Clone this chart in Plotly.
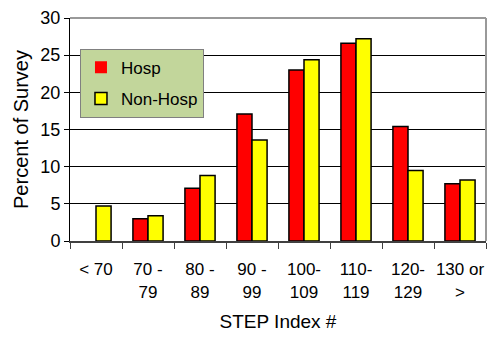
import plotly.graph_objects as go

categories = ["< 70", "70 -<br>79", "80 -<br>89", "90 -<br>99", "100-<br>109",
              "110-<br>119", "120-<br>129", "130 or<br>>"]
hosp = [0, 3.0, 7.1, 17.1, 23.0, 26.6, 15.4, 7.7]
non_hosp = [4.7, 3.4, 8.8, 13.6, 24.4, 27.2, 9.5, 8.2]

font = "Liberation Sans, Arial, sans-serif"

# no outline on empty bars
hosp_line = [0 if v == 0 else 1.5 for v in hosp]

fig = go.Figure()
fig.add_trace(go.Bar(x=categories, y=hosp, name="Hosp", legendgroup="h",
                     marker=dict(color="#ff0000", line=dict(color="#000000", width=hosp_line))))
fig.add_trace(go.Bar(x=categories, y=non_hosp, name="Non-Hosp", legendgroup="n",
                     marker=dict(color="#ffff00", line=dict(color="#000000", width=1.5))))

fig.update_layout(
    width=487, height=339,
    margin=dict(l=70, r=1, t=18, b=98, autoexpand=False),
    paper_bgcolor="white", plot_bgcolor="white",
    barmode="group", bargap=0.42, bargroupgap=0,
    font=dict(family=font, color="#000000", size=16),
    legend=dict(x=0.024, y=0.862, xanchor="left", yanchor="top",
                bgcolor="#c2d69b", bordercolor="#808080", borderwidth=1,
                font=dict(size=17), traceorder="grouped", tracegroupgap=6,
                itemwidth=30),
    xaxis=dict(
        title=dict(text="STEP Index #", font=dict(size=19), standoff=14),
        tickson="boundaries", ticks="outside", ticklen=6, tickcolor="#404040",
        showline=True, linecolor="#404040", linewidth=2, mirror=False,
        tickfont=dict(size=17), tickangle=0, ticklabelstandoff=12,
        showgrid=False, automargin=False,
    ),
    yaxis=dict(
        title=dict(text="Percent of Survey", font=dict(size=20), standoff=6),
        range=[0, 30], dtick=5, ticks="outside", ticklen=5, tickcolor="#000000",
        showline=True, linecolor="#000000", linewidth=1,
        showgrid=True, gridcolor="#000000", gridwidth=1,
        zeroline=False, tickfont=dict(size=18), automargin=False,
    ),
)

# Grey frame along the top and right of the plotting area
fig.add_shape(type="line", xref="paper", yref="paper", x0=0, x1=1, y0=1, y1=1,
              line=dict(color="#999999", width=2))
fig.add_shape(type="line", xref="paper", yref="paper", x0=1, x1=1, y0=0, y1=1,
              line=dict(color="#999999", width=2))

fig.write_html("out.html")
